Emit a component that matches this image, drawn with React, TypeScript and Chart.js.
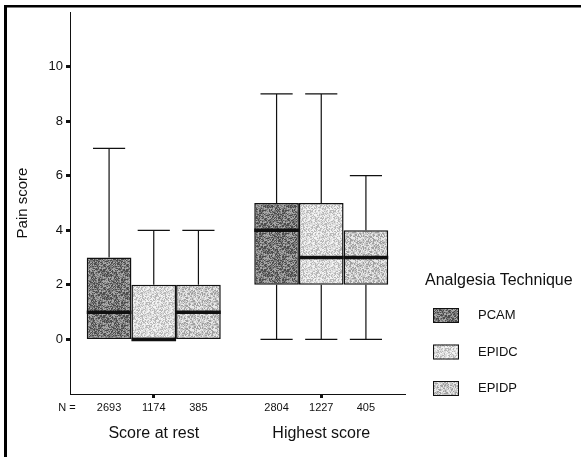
import React, { useEffect, useRef } from "react";
import { Chart, registerables } from "chart.js";
Chart.register(...registerables);

const categories = ["Score at rest", "Highest score"];
const yTickValues = [0, 2, 4, 6, 8, 10];
const legendTitle = "Analgesia Technique";
const nPrefix = "N =";

const pcamMin = [0, 0];
const pcamQ1 = [0, 2];
const pcamMedian = [1, 4];
const pcamQ3 = [3, 5];
const pcamMax = [7, 9];
const pcamN = [2693, 2804];

const epidcMin = [0, 0];
const epidcQ1 = [0, 2];
const epidcMedian = [0, 3];
const epidcQ3 = [2, 5];
const epidcMax = [4, 9];
const epidcN = [1174, 1227];

const epidpMin = [0, 0];
const epidpQ1 = [0, 2];
const epidpMedian = [1, 3];
const epidpQ3 = [2, 4];
const epidpMax = [4, 6];
const epidpN = [385, 405];

const FONT = "Arial, 'Liberation Sans', sans-serif";

// deterministic speckle texture (styling only)
function makePattern(base: string, dark: string, light: string, seed: number) {
  const c = document.createElement("canvas");
  const S = 23;
  c.width = S;
  c.height = S;
  const g = c.getContext("2d")!;
  for (let y = 0; y < S; y++) {
    for (let x = 0; x < S; x++) {
      let h = (x * 374761393 + y * 668265263 + seed * 2246822519) | 0;
      h = Math.imul(h ^ (h >>> 13), 1274126177);
      h = (h ^ (h >>> 16)) >>> 0;
      const v = h % 10;
      g.fillStyle = v < 3 ? dark : v > 6 ? light : base;
      g.fillRect(x, y, 1, 1);
    }
  }
  return g.createPattern(c, "repeat")!;
}

export default function App() {
  const ref = useRef<HTMLCanvasElement>(null);
  useEffect(() => {
    const canvas = ref.current!;
    const pats = [
      makePattern("#7c7c7c", "#4c4c4c", "#a8a8a8", 1),
      makePattern("#dcdcdc", "#b8b8b8", "#f4f4f4", 2),
      makePattern("#c8c8c8", "#a0a0a0", "#e8e8e8", 3),
    ];
    const mk = (label: string, q1: number[], q3: number[], med: number[], mn: number[], mx: number[], n: number[], i: number) => ({
      label,
      data: q1.map((v, k) => [v, q3[k]]),
      median: med,
      whiskMin: mn,
      whiskMax: mx,
      nVals: n,
      backgroundColor: pats[i],
      borderColor: "#111",
      borderWidth: 1.5,
      borderSkipped: false,
      categoryPercentage: 0.8,
      barPercentage: 1.0,
    });

    const boxExtras = {
      id: "boxExtras",
      afterDatasetsDraw(chart: any) {
        const ctx = chart.ctx;
        const ys = chart.scales.y;
        ctx.save();
        chart.data.datasets.forEach((ds: any, di: number) => {
          const meta = chart.getDatasetMeta(di);
          meta.data.forEach((el: any, k: number) => {
            const x = el.x;
            const w = el.width;
            const yq1 = ys.getPixelForValue(ds.data[k][0]);
            const yq3 = ys.getPixelForValue(ds.data[k][1]);
            const yMed = ys.getPixelForValue(ds.median[k]);
            const yMin = ys.getPixelForValue(ds.whiskMin[k]);
            const yMax = ys.getPixelForValue(ds.whiskMax[k]);
            const cap = w * 0.36;
            ctx.strokeStyle = "#111";
            ctx.lineWidth = 1.2;
            ctx.beginPath();
            if (ds.whiskMax[k] > ds.data[k][1]) {
              ctx.moveTo(x, yq3);
              ctx.lineTo(x, yMax);
              ctx.moveTo(x - cap, yMax);
              ctx.lineTo(x + cap, yMax);
            }
            if (ds.whiskMin[k] < ds.data[k][0]) {
              ctx.moveTo(x, yq1);
              ctx.lineTo(x, yMin);
              ctx.moveTo(x - cap, yMin);
              ctx.lineTo(x + cap, yMin);
            }
            ctx.stroke();
            ctx.lineWidth = 3.5;
            ctx.beginPath();
            ctx.moveTo(x - w / 2, yMed);
            ctx.lineTo(x + w / 2, yMed);
            ctx.stroke();
            ctx.fillStyle = "#111";
            ctx.font = `11px ${FONT}`;
            ctx.textAlign = "center";
            ctx.textBaseline = "middle";
            ctx.fillText(String(ds.nVals[k]), x, 408);
          });
        });
        ctx.fillStyle = "#111";
        ctx.font = `11px ${FONT}`;
        ctx.textAlign = "center";
        ctx.textBaseline = "middle";
        ctx.fillText(nPrefix, 67, 408);

        // legend
        ctx.font = `16px ${FONT}`;
        ctx.textAlign = "left";
        ctx.textBaseline = "alphabetic";
        ctx.fillText(legendTitle, 425, 285);
        chart.data.datasets.forEach((ds: any, di: number) => {
          const yc = 315.5 + di * 36.5;
          ctx.fillStyle = ds.backgroundColor;
          ctx.fillRect(433, yc - 7.5, 26, 15);
          ctx.strokeStyle = "#111";
          ctx.lineWidth = 1;
          ctx.strokeRect(433.5, yc - 7, 25, 14);
          ctx.fillStyle = "#111";
          ctx.font = `13px ${FONT}`;
          ctx.textBaseline = "middle";
          ctx.fillText(ds.label, 478, yc);
        });

        // frame
        ctx.fillStyle = "#000";
        ctx.fillRect(4, 5, 577, 2.5);
        ctx.fillRect(4, 5, 3, 452);
        ctx.restore();
      },
    };

    const chart = new Chart(canvas, {
      type: "bar",
      data: {
        labels: categories,
        datasets: [
          mk("PCAM", pcamQ1, pcamQ3, pcamMedian, pcamMin, pcamMax, pcamN, 0),
          mk("EPIDC", epidcQ1, epidcQ3, epidcMedian, epidcMin, epidcMax, epidcN, 1),
          mk("EPIDP", epidpQ1, epidpQ3, epidpMedian, epidpMin, epidpMax, epidpN, 2),
        ] as any,
      },
      options: {
        animation: false,
        responsive: false,
        layout: { padding: { top: 12, right: 176, left: 0, bottom: 0 } },
        plugins: { legend: { display: false }, tooltip: { enabled: false } },
        scales: {
          x: {
            grid: { display: true, drawOnChartArea: false, offset: false, tickLength: 4, tickWidth: 3, color: "#111" },
            border: { display: true, color: "#111", width: 1 },
            ticks: { color: "#111", font: { size: 16, family: FONT }, padding: 26 },
            afterFit: (s: any) => { s.height = 63; },
          },
          y: {
            min: -2,
            max: 12,
            afterBuildTicks: (s: any) => { s.ticks = yTickValues.map((v) => ({ value: v })); },
            grid: { display: true, drawOnChartArea: false, tickLength: 4, tickWidth: 3, color: "#111" },
            border: { display: true, color: "#111", width: 1 },
            ticks: { color: "#111", font: { size: 13, family: FONT }, padding: 3 },
            title: { display: true, text: "Pain score", color: "#111", font: { size: 15, family: FONT }, padding: { top: 14, bottom: 0 } },
            afterFit: (s: any) => { s.width = 70; },
          },
        },
      },
      plugins: [boxExtras],
    });
    return () => chart.destroy();
  }, []);
  return (
    <div style={{ position: "absolute", left: 0, top: 0, width: 581, height: 457, background: "#fff" }}>
      <canvas ref={ref} width={581} height={457} />
    </div>
  );
}
